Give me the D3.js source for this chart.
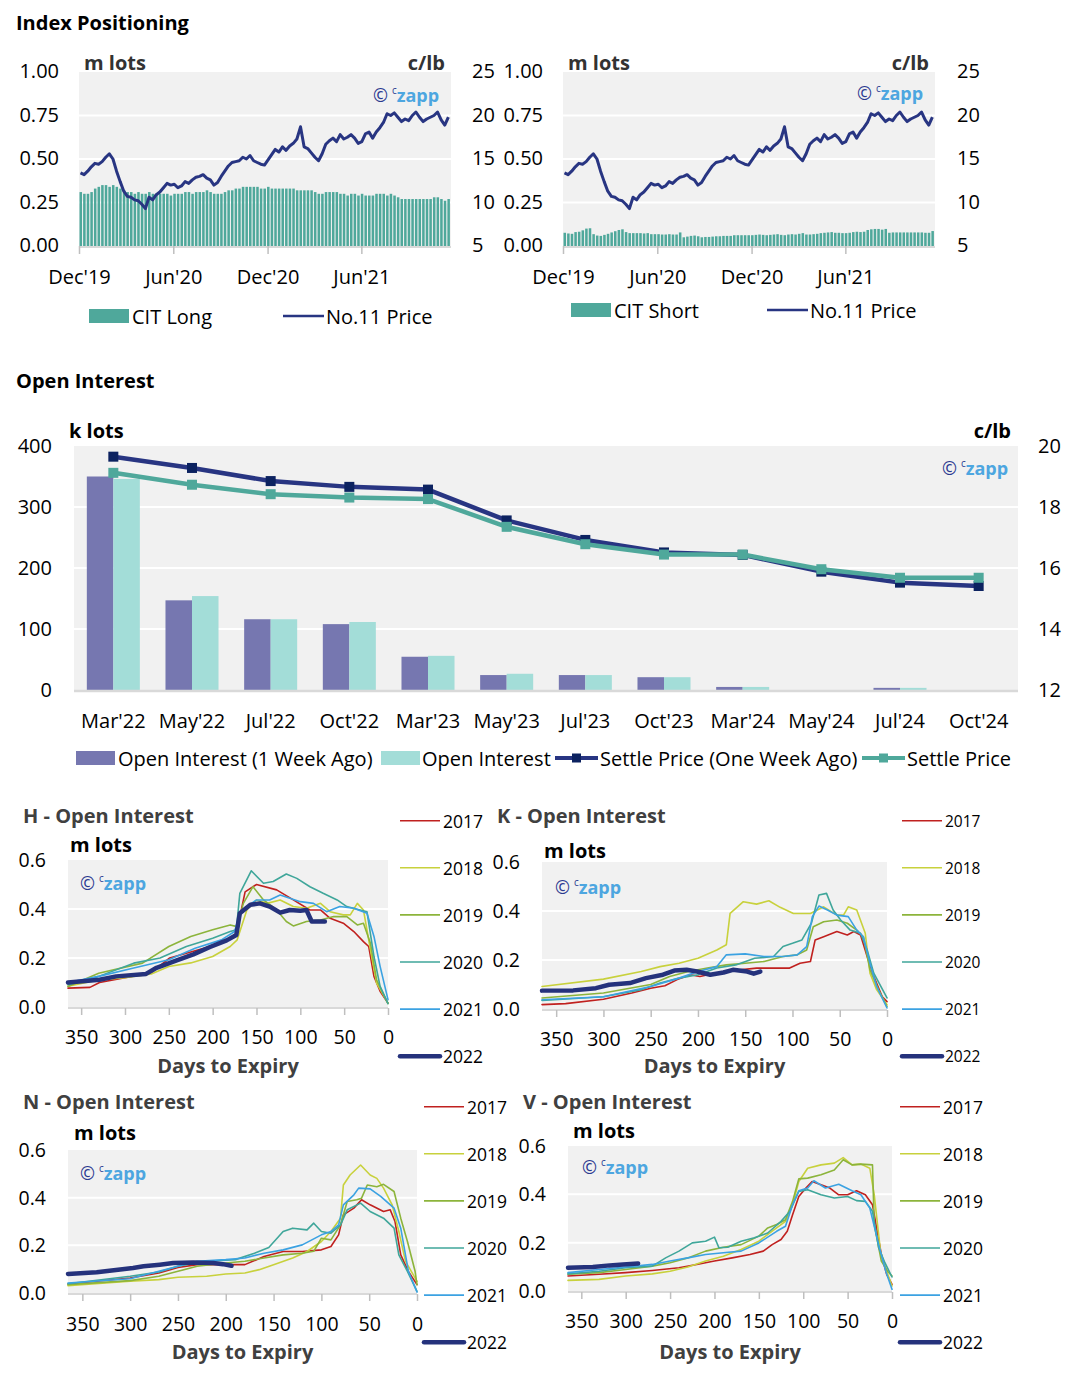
<!DOCTYPE html>
<html><head><meta charset="utf-8">
<script src="https://cdn.jsdelivr.net/npm/d3@7"></script>
<style>
body{margin:0;background:#fff;}
svg{display:block;font-family:"Open Sans",sans-serif;}
</style></head><body>
<svg id="c" width="1082" height="1384"></svg>
<script>
// ---------------- DATA ----------------
// Index positioning (weekly, starting Dec 2019)
const weekCount = 103;
const citLong = [0.31,0.30,0.30,0.31,0.33,0.34,0.35,0.35,0.34,0.35,0.34,0.33,0.32,0.31,0.31,0.30,0.31,0.30,0.30,0.31,
 0.30,0.30,0.30,0.30,0.30,0.29,0.30,0.30,0.30,0.31,0.31,0.30,0.31,0.31,0.31,0.32,0.31,0.30,0.30,0.30,
 0.31,0.32,0.32,0.33,0.33,0.34,0.34,0.34,0.34,0.34,0.33,0.33,0.34,0.33,0.33,0.33,0.33,0.33,0.33,0.33,
 0.32,0.32,0.32,0.32,0.32,0.31,0.30,0.30,0.31,0.31,0.31,0.31,0.30,0.30,0.29,0.30,0.30,0.29,0.30,0.29,
 0.29,0.29,0.30,0.30,0.30,0.29,0.30,0.29,0.28,0.27,0.27,0.27,0.27,0.27,0.27,0.27,0.27,0.27,0.28,0.28,
 0.27,0.26,0.27];
const citShort = [0.076,0.072,0.070,0.080,0.082,0.090,0.100,0.102,0.068,0.060,0.058,0.064,0.070,0.078,0.085,0.092,0.096,0.080,0.074,0.074,
 0.074,0.074,0.072,0.074,0.068,0.068,0.068,0.066,0.066,0.068,0.066,0.066,0.078,0.050,0.054,0.058,0.060,0.056,0.050,0.052,
 0.052,0.054,0.056,0.056,0.058,0.058,0.058,0.062,0.062,0.062,0.062,0.062,0.062,0.064,0.066,0.064,0.062,0.064,0.066,0.068,
 0.064,0.062,0.066,0.068,0.066,0.070,0.074,0.066,0.066,0.068,0.070,0.074,0.076,0.078,0.080,0.076,0.076,0.074,0.074,0.076,
 0.080,0.082,0.080,0.082,0.092,0.096,0.098,0.098,0.094,0.098,0.076,0.078,0.078,0.078,0.078,0.078,0.078,0.078,0.078,0.078,
 0.076,0.076,0.086];
const no11Price = [13.4,13.2,13.6,14.1,14.5,14.4,14.7,15.2,15.6,15.0,13.6,12.4,11.3,10.7,10.6,10.3,10.2,9.8,9.3,10.6,
 10.3,10.9,11.2,11.7,12.2,12.0,12.1,11.7,11.9,12.4,12.2,12.6,12.9,13.0,13.2,12.8,12.6,12.0,12.3,13.0,
 13.6,14.2,14.6,14.7,14.8,15.2,15.0,15.4,14.8,14.6,14.4,14.3,14.9,15.5,16.1,15.8,16.4,16.0,16.5,16.8,
 17.3,18.7,16.4,16.2,15.7,15.2,14.8,15.6,16.7,17.1,17.4,17.0,17.8,17.3,17.5,17.8,17.4,16.8,17.0,17.9,
 18.1,17.4,18.1,18.6,19.2,20.2,20.0,20.3,19.8,19.3,19.6,19.4,20.0,20.4,19.8,19.3,19.6,19.8,20.0,20.4,
 19.5,18.9,19.8];
const topTickLabels = ["Dec'19","Jun'20","Dec'20","Jun'21"];
const topTickDates = [new Date(2019,11,1), new Date(2020,5,1), new Date(2020,11,1), new Date(2021,5,1)];
const topLeftTicks = [0,0.25,0.5,0.75,1];
const topRightTicks = [5,10,15,20,25];

// Open interest by contract
const oiCategories = ["Mar'22","May'22","Jul'22","Oct'22","Mar'23","May'23","Jul'23","Oct'23","Mar'24","May'24","Jul'24","Oct'24"];
const oiWeekAgo = [350,147,116,108,54.5,24.5,24.5,21,5,0,3.5,0];
const oiNow = [346,154,116,111.5,56,26.6,24.5,21,5,0,3.5,0];
const settleWeekAgo = [19.65,19.28,18.85,18.66,18.57,17.56,16.92,16.51,16.43,15.88,15.52,15.41];
const settleNow = [19.12,18.73,18.42,18.31,18.26,17.35,16.78,16.44,16.44,15.96,15.68,15.68];
const oiLeftTicks = [0,100,200,300,400];
const oiRightTicks = [12,14,16,18,20];

// Days-to-expiry open interest curves: [days to expiry, m lots]
const years = ["2017","2018","2019","2020","2021","2022"];
const H_2017 = [[365,0.077],[340,0.08],[329,0.10],[300,0.12],[270,0.14],[249,0.20],[220,0.23],[200,0.25],[180,0.28],[173,0.30],[163,0.47],[150,0.50],[127,0.478],[108,0.437],[89,0.396],[77,0.396],[66,0.362],[51,0.342],[39,0.308],[28,0.267],[22,0.247],[16,0.125],[9,0.064],[0,0.016]];
const H_2018 = [[365,0.085],[330,0.11],[300,0.12],[270,0.135],[250,0.165],[225,0.18],[200,0.206],[180,0.247],[172,0.274],[161,0.396],[150,0.437],[138,0.423],[123,0.437],[108,0.41],[93,0.403],[77,0.423],[66,0.389],[51,0.376],[43,0.376],[35,0.423],[28,0.396],[20,0.233],[13,0.098],[0,0.016]];
const H_2019 = [[365,0.084],[330,0.138],[280,0.179],[250,0.247],[225,0.288],[200,0.315],[180,0.335],[172,0.328],[165,0.423],[154,0.491],[142,0.437],[127,0.396],[116,0.349],[108,0.331],[93,0.349],[77,0.355],[62,0.369],[47,0.369],[35,0.335],[28,0.342],[20,0.26],[13,0.111],[0,0.014]];
const H_2020 = [[365,0.091],[330,0.125],[290,0.179],[260,0.2],[230,0.247],[200,0.281],[180,0.308],[173,0.315],[169,0.464],[156,0.556],[142,0.505],[131,0.512],[116,0.543],[104,0.525],[89,0.491],[74,0.464],[58,0.437],[47,0.41],[32,0.396],[24,0.389],[16,0.206],[9,0.084],[0,0.014]];
const H_2021 = [[365,0.1],[330,0.125],[290,0.159],[250,0.193],[220,0.24],[190,0.274],[175,0.308],[169,0.383],[161,0.41],[150,0.437],[135,0.437],[123,0.457],[112,0.444],[100,0.43],[85,0.423],[70,0.389],[55,0.41],[39,0.403],[24,0.383],[16,0.288],[9,0.166],[0,0.03]];
const H_2022 = [[365,0.1],[329,0.111],[310,0.125],[276,0.135],[264,0.16],[241,0.19],[222,0.215],[203,0.245],[184,0.272],[173,0.294],[169,0.383],[157,0.417],[146,0.423],[135,0.41],[123,0.385],[112,0.396],[100,0.393],[93,0.396],[87,0.349],[72,0.349]];

const K_2017 = [[365,0.018],[340,0.022],[300,0.04],[270,0.065],[250,0.085],[235,0.095],[222,0.12],[208,0.14],[198,0.133],[173,0.153],[138,0.167],[110,0.167],[103,0.167],[92,0.187],[81,0.194],[76,0.282],[67,0.295],[53,0.316],[42,0.302],[35,0.316],[28,0.302],[21,0.214],[14,0.133],[5,0.05],[0,0.03]];
const K_2018 = [[365,0.092],[300,0.122],[260,0.153],[240,0.173],[220,0.187],[200,0.207],[180,0.241],[170,0.262],[166,0.39],[152,0.438],[138,0.428],[125,0.442],[113,0.415],[99,0.39],[81,0.39],[67,0.417],[53,0.383],[46,0.383],[41,0.417],[32,0.404],[23,0.309],[18,0.146],[11,0.079],[0,0.018]];
const K_2019 = [[365,0.045],[300,0.065],[250,0.1],[230,0.133],[210,0.153],[190,0.167],[170,0.18],[150,0.187],[130,0.194],[110,0.214],[95,0.221],[85,0.241],[78,0.336],[67,0.356],[53,0.363],[42,0.35],[32,0.322],[25,0.295],[18,0.16],[9,0.079],[0,0.01]];
const K_2020 = [[365,0.035],[300,0.05],[260,0.079],[240,0.106],[220,0.126],[200,0.14],[180,0.167],[160,0.18],[140,0.207],[120,0.214],[110,0.255],[100,0.268],[90,0.282],[80,0.35],[72,0.465],[64,0.472],[57,0.404],[49,0.363],[39,0.322],[28,0.309],[21,0.241],[14,0.146],[0,0.045]];
const K_2021 = [[365,0.038],[300,0.05],[250,0.092],[220,0.126],[200,0.153],[180,0.173],[170,0.221],[150,0.225],[130,0.214],[110,0.214],[95,0.221],[85,0.255],[79,0.377],[72,0.42],[63,0.404],[53,0.383],[41,0.377],[32,0.322],[25,0.295],[18,0.187],[11,0.092],[0,0.004]];
const K_2022 = [[365,0.075],[332,0.076],[308,0.085],[294,0.099],[272,0.106],[255,0.126],[237,0.14],[225,0.157],[212,0.16],[201,0.153],[187,0.14],[173,0.149],[163,0.16],[148,0.153],[141,0.144],[134,0.153]];

const N_2017 = [[365,0.038],[300,0.063],[270,0.084],[250,0.107],[230,0.119],[200,0.119],[180,0.119],[160,0.153],[140,0.174],[120,0.174],[100,0.181],[90,0.195],[82,0.244],[77,0.328],[66,0.356],[58,0.391],[49,0.37],[35,0.342],[28,0.349],[23,0.3],[17,0.16],[9,0.091],[0,0.035]];
const N_2018 = [[365,0.031],[300,0.049],[270,0.056],[250,0.066],[220,0.07],[200,0.08],[180,0.084],[165,0.098],[150,0.119],[130,0.147],[115,0.174],[100,0.216],[90,0.258],[80,0.314],[77,0.453],[70,0.495],[59,0.537],[49,0.495],[42,0.481],[35,0.44],[26,0.37],[19,0.258],[12,0.133],[0,0.049]];
const N_2019 = [[365,0.035],[300,0.052],[270,0.07],[250,0.091],[230,0.112],[200,0.126],[180,0.133],[160,0.147],[140,0.16],[120,0.167],[108,0.175],[100,0.23],[90,0.223],[80,0.286],[73,0.384],[63,0.391],[58,0.398],[52,0.453],[42,0.446],[35,0.456],[24,0.426],[17,0.314],[10,0.216],[2,0.091],[0,0.035]];
const N_2020 = [[365,0.039],[300,0.07],[270,0.088],[250,0.112],[220,0.133],[190,0.14],[170,0.167],[155,0.191],[140,0.258],[130,0.272],[115,0.265],[108,0.293],[100,0.258],[90,0.251],[80,0.286],[73,0.349],[59,0.377],[49,0.342],[35,0.314],[24,0.272],[19,0.16],[10,0.091],[0,0.007]];
const N_2021 = [[365,0.042],[300,0.06],[270,0.091],[250,0.112],[230,0.133],[200,0.14],[180,0.147],[160,0.167],[140,0.181],[120,0.202],[100,0.244],[90,0.258],[82,0.286],[77,0.37],[66,0.412],[61,0.44],[49,0.437],[38,0.405],[24,0.356],[17,0.272],[9,0.091],[0,0.004]];
const N_2022 = [[365,0.08],[335,0.087],[297,0.105],[286,0.112],[269,0.119],[255,0.126],[234,0.128],[213,0.126],[203,0.121],[194,0.114]];

const V_2017 = [[365,0.062],[330,0.069],[300,0.076],[270,0.085],[240,0.096],[220,0.11],[200,0.124],[180,0.137],[160,0.151],[145,0.165],[135,0.192],[125,0.213],[118,0.247],[112,0.316],[105,0.391],[97,0.426],[90,0.453],[80,0.44],[70,0.426],[60,0.398],[50,0.398],[40,0.415],[30,0.398],[22,0.357],[18,0.275],[12,0.151],[6,0.069],[0,0.027]];
const V_2018 = [[365,0.044],[330,0.048],[300,0.062],[270,0.071],[250,0.082],[230,0.099],[210,0.124],[190,0.144],[170,0.172],[150,0.206],[130,0.261],[120,0.288],[112,0.357],[105,0.453],[95,0.508],[80,0.522],[65,0.529],[55,0.552],[45,0.522],[35,0.525],[25,0.508],[20,0.398],[13,0.165],[6,0.082],[0,0.021]];
const V_2019 = [[365,0.069],[330,0.076],[300,0.089],[270,0.103],[250,0.117],[230,0.137],[210,0.165],[190,0.181],[170,0.192],[150,0.227],[140,0.261],[130,0.275],[120,0.295],[112,0.371],[105,0.464],[95,0.467],[80,0.481],[65,0.501],[55,0.543],[45,0.522],[35,0.525],[22,0.522],[20,0.275],[12,0.124],[5,0.082],[0,0.062]];
const V_2020 = [[365,0.071],[330,0.082],[300,0.096],[270,0.103],[255,0.137],[240,0.165],[225,0.199],[210,0.206],[200,0.223],[195,0.179],[185,0.181],[170,0.206],[155,0.22],[140,0.24],[125,0.288],[115,0.33],[105,0.412],[95,0.419],[80,0.398],[65,0.385],[50,0.391],[40,0.374],[30,0.371],[22,0.33],[15,0.179],[8,0.117],[0,0.058]];
const V_2021 = [[365,0.076],[330,0.089],[300,0.099],[270,0.11],[250,0.124],[230,0.137],[210,0.151],[190,0.158],[170,0.165],[150,0.199],[130,0.247],[120,0.268],[112,0.357],[105,0.415],[95,0.426],[88,0.456],[75,0.426],[60,0.442],[45,0.415],[35,0.398],[25,0.343],[15,0.192],[7,0.082],[0,0.007]];
const V_2022 = [[365,0.096],[337,0.099],[318,0.106],[303,0.11],[286,0.114]];

const dayTicks = [350,300,250,200,150,100,50,0];
const oiSmallTicks = [0,0.2,0.4,0.6];

// ---------------- STYLE ----------------
const yearColors = ["#c0211f","#c8d13c","#8cb43b","#3fa69a","#3ba2e2","#25327c"];
const BG = "#f1f1f1", AXIS = "#d9d9d9", TICK = "#bfbfbf";
const svg = d3.select("#c");

function txt(g, x, y, s, o = {}) {
  return g.append("text").attr("x", x).attr("y", y).attr("dominant-baseline", "central")
    .attr("text-anchor", o.anchor || "start").attr("font-size", o.size || 20)
    .attr("font-weight", o.weight || 400).attr("fill", o.fill || "#000").text(s);
}
function watermark(g, x, y, size = 18) {
  const t = g.append("text").attr("x", x).attr("y", y).attr("dominant-baseline", "central").attr("font-size", size);
  t.append("tspan").attr("fill", "#2b3990").text("©");
  t.append("tspan").attr("fill", "#2b3990").attr("font-size", size * 0.55).attr("dx", 4).attr("dy", -5).text("c");
  t.append("tspan").attr("fill", "#4da6e0").attr("font-weight", 700).attr("dy", 5).text("zapp");
}
function styleAxis(ax, size, fill = "#000") {
  ax.select(".domain").remove();
  ax.attr("font-family", null).attr("font-size", size);
  ax.selectAll("text").attr("fill", fill);
}

// ---------------- TOP CHARTS ----------------
txt(svg, 16, 22, "Index Positioning", { size: 20, weight: 700 });
const weekDates = d3.range(weekCount).map(i => d3.timeDay.offset(new Date(2019, 11, 1), 7 * i));

function topChart(c) {
  const g = svg.append("g");
  const top = 72, bot = 246;
  const x = d3.scaleTime().domain([new Date(2019, 11, 1), new Date(2021, 10, 22)]).range([c.x0, c.x1]);
  const yL = d3.scaleLinear().domain([0, 1]).range([bot, top]);
  const yR = d3.scaleLinear().domain([5, 25]).range([bot, top]);
  g.append("rect").attr("x", c.x0).attr("y", top).attr("width", c.x1 - c.x0).attr("height", bot - top).attr("fill", BG);
  g.selectAll(".grid").data([0.25, 0.5, 0.75]).join("line")
    .attr("x1", c.x0).attr("x2", c.x1).attr("y1", d => yL(d)).attr("y2", d => yL(d))
    .attr("stroke", "#fff").attr("stroke-width", 2);
  const bw = (x(weekDates[1]) - x(weekDates[0])) * 0.7;
  g.selectAll(".bar").data(c.bars).join("rect")
    .attr("x", (d, i) => x(weekDates[i]) + 0.5).attr("y", d => yL(d))
    .attr("width", bw).attr("height", d => yL(0) - yL(d)).attr("fill", "#4fa89b");
  g.append("line").attr("x1", c.x0).attr("x2", c.x1).attr("y1", bot + 1).attr("y2", bot + 1).attr("stroke", AXIS).attr("stroke-width", 2);
  const line = d3.line().x((d, i) => x(weekDates[i]) + 1.5).y(d => yR(d));
  g.append("path").datum(no11Price).attr("d", line).attr("fill", "none").attr("stroke", "#283582").attr("stroke-width", 3).attr("stroke-linejoin", "round");

  const ax = g.append("g").attr("transform", `translate(0,${bot})`)
    .call(d3.axisBottom(x).tickValues(topTickDates).tickFormat((d, i) => topTickLabels[i]).tickSize(8));
  styleAxis(ax, 20);
  ax.selectAll("line").attr("stroke", TICK).attr("stroke-width", 1.5);
  ax.selectAll("text").attr("dy", null).attr("dominant-baseline", "central").attr("y", 30);

  const al = g.append("g").attr("transform", `translate(${c.leftLab},-2)`)
    .call(d3.axisLeft(yL).tickValues(topLeftTicks).tickFormat(d3.format(".2f")).tickSize(0).tickPadding(0));
  styleAxis(al, 20);
  al.selectAll("text").attr("dy", null).attr("dominant-baseline", "central");
  const ar = g.append("g").attr("transform", `translate(${c.rightLab},-2)`)
    .call(d3.axisRight(yR).tickValues(topRightTicks).tickSize(0).tickPadding(0));
  styleAxis(ar, 20);
  ar.selectAll("text").attr("dy", null).attr("dominant-baseline", "central");

  txt(g, c.x0 + 5, 62, "m lots", { size: 20, weight: 700, fill: "#333" });
  txt(g, c.x1 - 6, 62, "c/lb", { size: 20, weight: 700, fill: "#333", anchor: "end" });
  watermark(g, c.wm[0], c.wm[1]);

  g.append("rect").attr("x", c.leg[0]).attr("y", c.leg[1] - 7).attr("width", 40).attr("height", 14).attr("fill", "#4fa89b");
  txt(g, c.leg[0] + 43, c.leg[1], c.barName, { size: 20 });
  g.append("line").attr("x1", c.leg[2]).attr("x2", c.leg[2] + 41).attr("y1", c.leg[1]).attr("y2", c.leg[1]).attr("stroke", "#283582").attr("stroke-width", 2.6);
  txt(g, c.leg[2] + 43, c.leg[1], "No.11 Price", { size: 20 });
}
topChart({ x0: 79, x1: 451, leftLab: 59, rightLab: 472, bars: citLong, barName: "CIT Long", wm: [373, 95], leg: [89, 316, 283] });
topChart({ x0: 563, x1: 935, leftLab: 543, rightLab: 957, bars: citShort, barName: "CIT Short", wm: [857, 93], leg: [571, 310, 767] });

// ---------------- OPEN INTEREST ----------------
txt(svg, 16, 380, "Open Interest", { size: 20, weight: 700 });
(function () {
  const g = svg.append("g");
  const x0 = 74, x1 = 1018, top = 446, bot = 690;
  const xb = d3.scaleBand().domain(oiCategories).range([x0, x1]).padding(0);
  const xs = d3.scaleBand().domain(["prev", "cur"]).range([xb.bandwidth() * 0.163, xb.bandwidth() * 0.837]).padding(0);
  const yL = d3.scaleLinear().domain([0, 400]).range([bot, top]);
  const yR = d3.scaleLinear().domain([12, 20]).range([bot, top]);
  g.append("rect").attr("x", x0).attr("y", top).attr("width", x1 - x0).attr("height", bot - top).attr("fill", BG);
  g.selectAll(".grid").data([100, 200, 300]).join("line")
    .attr("x1", x0).attr("x2", x1).attr("y1", d => yL(d)).attr("y2", d => yL(d)).attr("stroke", "#fff").attr("stroke-width", 2);
  g.selectAll(".b1").data(oiWeekAgo).join("rect")
    .attr("x", (d, i) => xb(oiCategories[i]) + xs("prev")).attr("y", d => yL(d)).attr("width", xs.bandwidth())
    .attr("height", d => yL(0) - yL(d)).attr("fill", "#7677b0");
  g.selectAll(".b2").data(oiNow).join("rect")
    .attr("x", (d, i) => xb(oiCategories[i]) + xs("cur")).attr("y", d => yL(d)).attr("width", xs.bandwidth())
    .attr("height", d => yL(0) - yL(d)).attr("fill", "#a3ddd8");
  g.append("line").attr("x1", x0).attr("x2", x1).attr("y1", bot + 1).attr("y2", bot + 1).attr("stroke", AXIS).attr("stroke-width", 2.5);
  const cx = (d, i) => xb(oiCategories[i]) + xb.bandwidth() / 2;
  const series = [[settleWeekAgo, "#283582", "#0c2260"], [settleNow, "#4fa89b", "#4fa89b"]];
  series.forEach(([data, col, mk]) => {
    g.append("path").datum(data).attr("d", d3.line().x(cx).y(d => yR(d)))
      .attr("fill", "none").attr("stroke", col).attr("stroke-width", 4.5).attr("stroke-linejoin", "round");
    g.selectAll(null).data(data).join("rect")
      .attr("x", (d, i) => cx(d, i) - 5).attr("y", d => yR(d) - 5).attr("width", 10).attr("height", 10).attr("fill", mk);
  });
  const ax = g.append("g").attr("transform", `translate(0,${bot})`).call(d3.axisBottom(xb).tickSize(0));
  styleAxis(ax, 20);
  ax.selectAll("text").attr("dy", null).attr("dominant-baseline", "central").attr("y", 30);
  const al = g.append("g").attr("transform", `translate(52,-1)`).call(d3.axisLeft(yL).tickValues(oiLeftTicks).tickSize(0).tickPadding(0));
  styleAxis(al, 20);
  al.selectAll("text").attr("dy", null).attr("dominant-baseline", "central");
  const ar = g.append("g").attr("transform", `translate(1038,-1)`).call(d3.axisRight(yR).tickValues(oiRightTicks).tickSize(0).tickPadding(0));
  styleAxis(ar, 20);
  ar.selectAll("text").attr("dy", null).attr("dominant-baseline", "central");
  txt(g, 69, 430, "k lots", { size: 20, weight: 700 });
  txt(g, 1011, 430, "c/lb", { size: 20, weight: 700, anchor: "end" });
  watermark(g, 942, 468);
  // legend
  const ly = 758;
  g.append("rect").attr("x", 76).attr("y", ly - 7).attr("width", 39).attr("height", 14).attr("fill", "#7677b0");
  txt(g, 118, ly, "Open Interest (1 Week Ago)", { size: 20 });
  g.append("rect").attr("x", 381).attr("y", ly - 7).attr("width", 39).attr("height", 14).attr("fill", "#a3ddd8");
  txt(g, 422, ly, "Open Interest", { size: 20 });
  [[555, "#283582", "#0c2260", "Settle Price (One Week Ago)"], [862, "#4fa89b", "#4fa89b", "Settle Price"]].forEach(([lx, col, mk, name]) => {
    g.append("line").attr("x1", lx).attr("x2", lx + 43).attr("y1", ly).attr("y2", ly).attr("stroke", col).attr("stroke-width", 4);
    g.append("rect").attr("x", lx + 17).attr("y", ly - 4.5).attr("width", 9).attr("height", 9).attr("fill", mk);
    txt(g, lx + 45, ly, name, { size: 20 });
  });
})();

// ---------------- DAYS TO EXPIRY CHARTS ----------------
function expiryChart(c) {
  const g = svg.append("g");
  const x = d3.scaleLinear().domain([365, 0]).range([c.x0, c.x1]);
  const y = d3.scaleLinear().domain([0, 0.6]).range([c.y1, c.y0]);
  txt(g, c.titleX, c.titleY, c.title, { size: 20, weight: 700, fill: "#404040" });
  txt(g, c.unitX, c.unitY, "m lots", { size: 20, weight: 700 });
  g.append("rect").attr("x", c.x0).attr("y", c.y0).attr("width", c.x1 - c.x0).attr("height", c.y1 - c.y0).attr("fill", BG);
  g.selectAll(".grid").data([0.2, 0.4]).join("line")
    .attr("x1", c.x0).attr("x2", c.x1).attr("y1", d => y(d)).attr("y2", d => y(d)).attr("stroke", "#fff").attr("stroke-width", 2);
  g.append("line").attr("x1", c.x0).attr("x2", c.x1).attr("y1", c.y1 + 1).attr("y2", c.y1 + 1).attr("stroke", AXIS).attr("stroke-width", 2);
  watermark(g, c.wm[0], c.wm[1]);
  const line = d3.line().x(d => x(d[0])).y(d => y(d[1]));
  c.series.forEach((s, i) => {
    g.append("path").datum(s).attr("d", line).attr("fill", "none").attr("stroke", yearColors[i])
      .attr("stroke-width", i === 5 ? 4.5 : 1.6).attr("stroke-linejoin", "round").attr("stroke-linecap", "round");
  });
  const ax = g.append("g").attr("transform", `translate(0,${c.y1 + 1})`).call(d3.axisBottom(x).tickValues(dayTicks).tickSize(7));
  styleAxis(ax, 19.5);
  ax.selectAll("line").attr("stroke", TICK).attr("stroke-width", 1.5);
  ax.selectAll("text").attr("dy", null).attr("dominant-baseline", "central").attr("y", c.xLabY - c.y1 - 1);
  const al = g.append("g").attr("transform", `translate(${c.yLabX},-1)`).call(d3.axisLeft(y).tickValues(oiSmallTicks).tickFormat(d3.format(".1f")).tickSize(0).tickPadding(0));
  styleAxis(al, 19.5);
  al.selectAll("text").attr("dy", null).attr("dominant-baseline", "central");
  txt(g, (c.x0 + c.x1) / 2, c.xTitleY, "Days to Expiry", { size: 20, weight: 700, fill: "#404040", anchor: "middle" });
  years.forEach((yr, i) => {
    const ly = c.legY0 + i * 47.1;
    g.append("line").attr("x1", c.legX).attr("x2", c.legX + 40).attr("y1", ly).attr("y2", ly)
      .attr("stroke", yearColors[i]).attr("stroke-width", i === 5 ? 4.5 : 1.6).attr("stroke-linecap", i === 5 ? "round" : "butt");
    txt(g, c.legX + 43, ly, yr, { size: c.legSize });
  });
}
expiryChart({ title: "H - Open Interest", titleX: 23, titleY: 815, unitX: 70, unitY: 844, x0: 68, x1: 388, y0: 860, y1: 1007,
  yLabX: 46, xLabY: 1036, xTitleY: 1065, legX: 400, legY0: 820.7, legSize: 17.5, wm: [80, 883],
  series: [H_2017, H_2018, H_2019, H_2020, H_2021, H_2022] });
expiryChart({ title: "K - Open Interest", titleX: 497, titleY: 815, unitX: 544, unitY: 850, x0: 542, x1: 887, y0: 862, y1: 1009,
  yLabX: 520, xLabY: 1038, xTitleY: 1065, legX: 902, legY0: 820.7, legSize: 15.5, wm: [555, 887],
  series: [K_2017, K_2018, K_2019, K_2020, K_2021, K_2022] });
expiryChart({ title: "N - Open Interest", titleX: 23, titleY: 1101, unitX: 74, unitY: 1132, x0: 68, x1: 417, y0: 1150, y1: 1293,
  yLabX: 46, xLabY: 1323, xTitleY: 1351, legX: 424, legY0: 1106.7, legSize: 17.5, wm: [80, 1173],
  series: [N_2017, N_2018, N_2019, N_2020, N_2021, N_2022] });
expiryChart({ title: "V - Open Interest", titleX: 523, titleY: 1101, unitX: 573, unitY: 1130, x0: 568, x1: 892, y0: 1146, y1: 1291,
  yLabX: 546, xLabY: 1320, xTitleY: 1351, legX: 900, legY0: 1106.7, legSize: 17.5, wm: [582, 1167],
  series: [V_2017, V_2018, V_2019, V_2020, V_2021, V_2022] });
</script>
</body></html>
